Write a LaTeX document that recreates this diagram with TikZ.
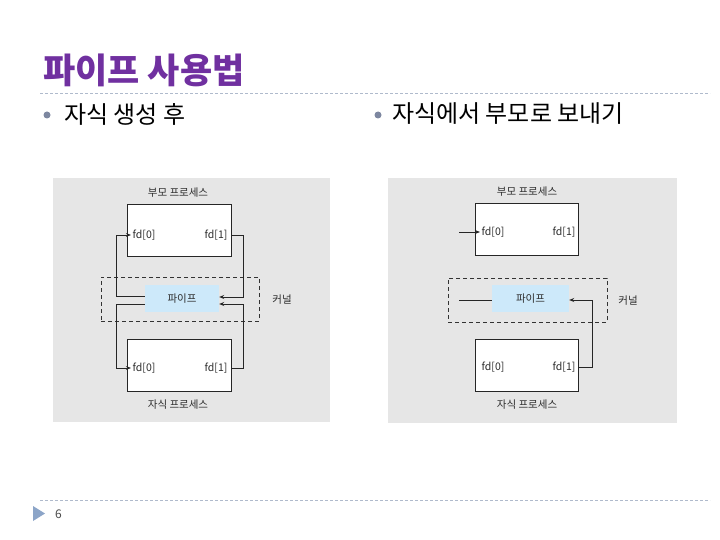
\documentclass[tikz,border=0pt]{standalone}
\usepackage{fontspec}
\newfontfamily\krfont{Noto Sans CJK KR}
\usetikzlibrary{
  arrows.meta,
  positioning,
  calc
}
\definecolor{titlepurple}{RGB}{112,48,160}
\definecolor{rulegray}{RGB}{175,186,204}
\definecolor{bulletgray}{RGB}{125,135,160}
\definecolor{panelgray}{RGB}{230,230,230}
\definecolor{pipeblue}{RGB}{205,233,250}
\definecolor{labelgray}{RGB}{45,45,45}
\definecolor{markerblue}{RGB}{140,165,200}
\tikzset{
  panel/.style={fill=panelgray,draw=none},
  procbox/.style={
    draw=black!85,
    fill=white,
    line width=0.8pt,
    minimum width=104pt,
    minimum height=52pt,
    inner sep=0pt
  },
  pipebox/.style={
    fill=pipeblue,
    draw=none,
    minimum width=74pt,
    minimum height=27pt,
    text=labelgray,
    font=\krfont\fontsize{10.5}{12}\selectfont
  },
  kernelbox/.style={draw=black!80,line width=0.7pt,dash pattern=on 4pt off 3pt,minimum width=158pt,minimum height=44pt},
  smalltext/.style={font=\krfont\fontsize{10.5}{12}\selectfont,text=labelgray,inner sep=1.5pt},
  bullettext/.style={font=\krfont\fontsize{24}{28}\selectfont,anchor=west,inner sep=0pt},
  flowarrow/.style={-{Stealth[length=5pt,width=4pt]},draw=black!85,line width=0.8pt},
  flowline/.style={draw=black!85,line width=0.8pt},
  slideline/.style={draw=rulegray,line width=0.7pt,dash pattern=on 3pt off 2pt},
}

\begin{document}
\begin{tikzpicture}[x=1pt,y=-1pt]
  \useasboundingbox[fill=white] (0,0) rectangle (720,540);

  % slide title and rules
  \node[anchor=west,inner sep=0pt,text=titlepurple,font=\krfont\bfseries\fontsize{35}{40}\selectfont] (title) at (43,70) {파이프 사용법};
  \draw[slideline] (40,93) -- (710,93);
  \draw[slideline] (40,500) -- (710,500);
  \fill[markerblue] (33,506) -- (45,513.5) -- (33,521) -- cycle;
  \node[anchor=west,inner sep=0pt,text=black!70,font=\krfont\fontsize{12}{14}\selectfont] (pagenum) at (55,514) {6};

  % bullets
  \fill[bulletgray] (47,115) circle (3.5);
  \node[bullettext] (lhead) at (64,114) {자식 생성 후};
  \fill[bulletgray] (378,115) circle (3.5);
  \node[bullettext] (rhead) at (392,114) {자식에서 부모로 보내기};

  % left panel: after fork
  \fill[panel] (53,178) rectangle (330,422);
  \node[smalltext] (lptitle) at (178,193) {부모 프로세스};
  \node[procbox] (lparent) at (179,230) {};
  \node[smalltext] (lpfd0) at (144,235) {fd[0]};
  \node[smalltext] (lpfd1) at (216,235) {fd[1]};
  \node[kernelbox] (lkernel) at (180,299) {};
  \node[pipebox] (lpipe) at (182,298.5) {파이프};
  \node[smalltext] (lklabel) at (282,300) {커널};
  \node[procbox] (lchild) at (179,365) {};
  \node[smalltext] (lcfd0) at (144,368) {fd[0]};
  \node[smalltext] (lcfd1) at (216,368) {fd[1]};
  \node[smalltext] (lctitle) at (178,405) {자식 프로세스};
  \draw[flowarrow] ([yshift=2.5pt]lpipe.west) -- ++(-28,0) |- (lpfd0.west);
  \draw[flowarrow] ([yshift=-5.5pt]lpipe.west) -- ++(-28,0) |- (lcfd0.west);
  \draw[flowarrow] (lparent.east |- lpfd1) -- ++(12,0) |- ([yshift=1.5pt]lpipe.east);
  \draw[flowarrow] (lchild.east |- lcfd1) -- ++(12,0) |- ([yshift=-5.5pt]lpipe.east);

  % right panel: child to parent
  \fill[panel] (388,178) rectangle (677,423);
  \node[smalltext] (rptitle) at (527,192) {부모 프로세스};
  \node[procbox,minimum width=103pt] (rparent) at (526.5,229) {};
  \node[smalltext] (rpfd0) at (493,232) {fd[0]};
  \node[smalltext] (rpfd1) at (564,232) {fd[1]};
  \node[kernelbox,minimum width=159pt] (rkernel) at (527.5,300) {};
  \node[pipebox,minimum width=77pt] (rpipe) at (530.5,298.5) {파이프};
  \node[smalltext] (rklabel) at (628,301) {커널};
  \node[procbox,minimum width=103pt] (rchild) at (526.5,365) {};
  \node[smalltext] (rcfd0) at (493,367) {fd[0]};
  \node[smalltext] (rcfd1) at (564,367) {fd[1]};
  \node[smalltext] (rctitle) at (527,405) {자식 프로세스};
  \coordinate (rin) at (459,232);
  \coordinate (rout) at (459,300);
  \draw[flowarrow] (rin) -- (rpfd0.west);
  \draw[flowline] (rpipe.west |- rout) -- (rout);
  \draw[flowarrow] (rchild.east |- rcfd1) -- ++(14,0) |- ([yshift=-1.5pt]rpipe.east);
\end{tikzpicture}
\end{document}
